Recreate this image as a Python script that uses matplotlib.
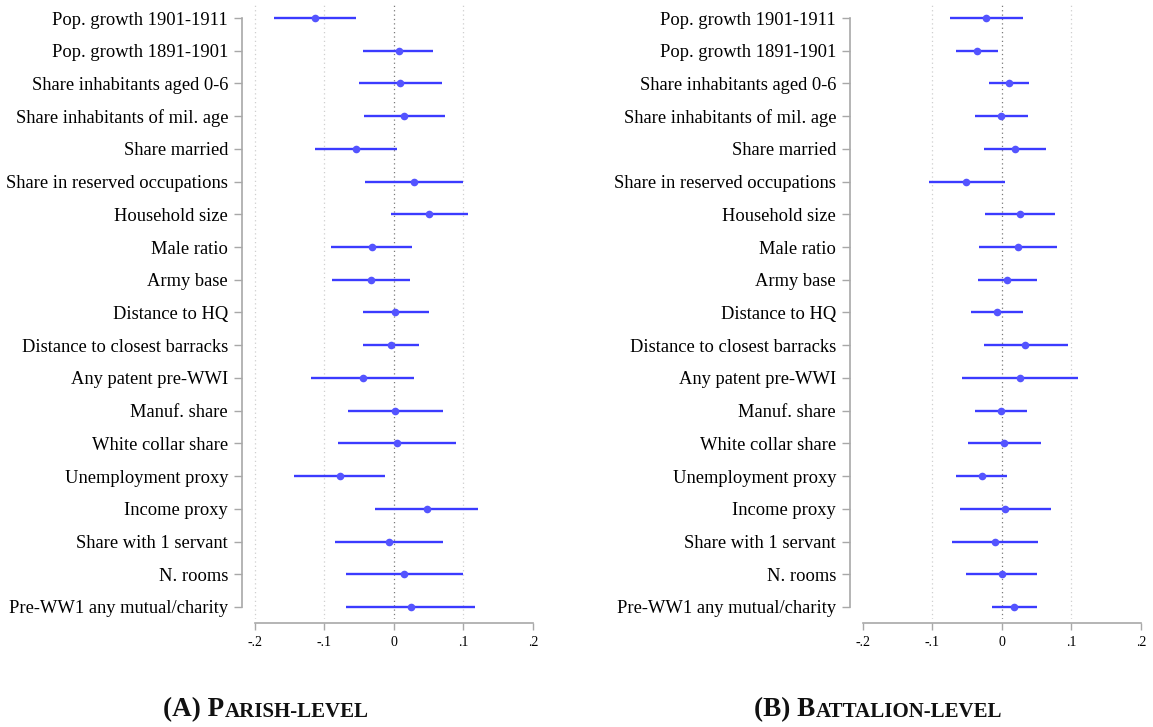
import numpy as np
import matplotlib
matplotlib.use('Agg')
import matplotlib.pyplot as plt
from matplotlib.offsetbox import TextArea, HPacker, AnnotationBbox

plt.rcParams['font.family'] = ['Liberation Serif', 'DejaVu Serif']

labels = ['Pop. growth 1901-1911', 'Pop. growth 1891-1901', 'Share inhabitants aged 0-6',
          'Share inhabitants of mil. age', 'Share married', 'Share in reserved occupations',
          'Household size', 'Male ratio', 'Army base', 'Distance to HQ',
          'Distance to closest barracks', 'Any patent pre-WWI', 'Manuf. share',
          'White collar share', 'Unemployment proxy', 'Income proxy',
          'Share with 1 servant', 'N. rooms', 'Pre-WW1 any mutual/charity']

# panel A: parish level
parish_coef = [-0.113, 0.007, 0.009, 0.015, -0.055, 0.029, 0.051, -0.032, -0.033, 0.002,
               -0.004, -0.045, 0.001, 0.004, -0.078, 0.047, -0.007, 0.015, 0.024]
parish_lo = [-0.172, -0.044, -0.050, -0.043, -0.114, -0.041, -0.004, -0.090, -0.089, -0.045,
             -0.044, -0.119, -0.066, -0.080, -0.144, -0.027, -0.085, -0.069, -0.069]
parish_hi = [-0.055, 0.057, 0.069, 0.073, 0.005, 0.100, 0.106, 0.026, 0.023, 0.050,
             0.036, 0.029, 0.070, 0.089, -0.012, 0.121, 0.071, 0.100, 0.116]

# panel B: battalion level
batt_coef = [-0.023, -0.036, 0.010, -0.001, 0.019, -0.051, 0.026, 0.023, 0.008, -0.007,
             0.034, 0.026, -0.001, 0.003, -0.029, 0.005, -0.010, 0.000, 0.018]
batt_lo = [-0.075, -0.066, -0.018, -0.039, -0.026, -0.105, -0.024, -0.033, -0.034, -0.045,
           -0.026, -0.057, -0.039, -0.049, -0.066, -0.060, -0.071, -0.051, -0.014]
batt_hi = [0.030, -0.006, 0.039, 0.038, 0.064, 0.004, 0.076, 0.079, 0.051, 0.031,
           0.095, 0.110, 0.036, 0.057, 0.007, 0.071, 0.052, 0.051, 0.051]

xticks = [-0.2, -0.1, 0, 0.1, 0.2]
xticklabels = ['-.2', '-.1', '0', '.1', '.2']

W, H = 1153, 727
fig = plt.figure(figsize=(W / 100, H / 100), dpi=100)

grey = '#a8a8a8'


def coef_panel(left_px, coef, lo, hi, grid_at):
    # axes box in pixels: x from left_px, width 291; y from 4 to 619
    ax = fig.add_axes([left_px / W, (H - 619) / H, 291 / W, 615 / H])
    rows = np.arange(1, len(labels) + 1)

    for g in grid_at:
        ax.axvline(g, color='#7a7a7a' if g == 0 else '#cfcfcf', linestyle=(0, (1, 2.5)),
                   linewidth=0.9, zorder=0)

    ax.hlines(rows, lo, hi, color='#3b3bff', linewidth=1.7, zorder=2)
    ax.plot(coef, rows, 'o', color='#5454ff', markersize=5.5, markeredgewidth=0, zorder=3)

    ax.set_xlim(-0.2182, 0.2)
    ax.set_ylim(19.367, 0.572)

    ax.set_yticks(rows)
    ax.set_yticklabels(labels, fontsize=13.3)
    ax.set_xticks(xticks)
    ax.set_xticklabels(xticklabels, fontsize=12)

    for s in ['top', 'right']:
        ax.spines[s].set_visible(False)
    ax.spines['left'].set_bounds(1, 19)
    ax.spines['left'].set_color(grey)
    ax.spines['left'].set_linewidth(1.2)
    ax.spines['bottom'].set_position(('outward', 3))
    ax.spines['bottom'].set_bounds(-0.2, 0.2)
    ax.spines['bottom'].set_color(grey)
    ax.spines['bottom'].set_linewidth(1.2)
    ax.tick_params(axis='y', length=6, width=1, color=grey, pad=4)
    ax.tick_params(axis='x', length=5, width=1, color=grey, pad=4)
    return ax


coef_panel(242, parish_coef, parish_lo, parish_hi, [-0.2, -0.1, 0, 0.1])
coef_panel(850, batt_coef, batt_lo, batt_hi, [-0.1, 0, 0.1])


def caption(xc, letter, first, rest):
    big = dict(size=19.5, weight='bold', color='#111111')
    small = dict(size=15, weight='bold', color='#111111')
    parts = [TextArea('(' + letter + ') ' + first, textprops=big),
             TextArea(rest, textprops=small)]
    box = HPacker(children=parts, align='baseline', pad=0, sep=0)
    ab = AnnotationBbox(box, (xc / W, 1 - 710 / H), xycoords='figure fraction',
                        frameon=False, box_alignment=(0.5, 0.5))
    fig.add_artist(ab)


caption(266, 'A', 'P', 'ARISH-LEVEL')
caption(878, 'B', 'B', 'ATTALION-LEVEL')

fig.savefig('out.png', dpi=100)
